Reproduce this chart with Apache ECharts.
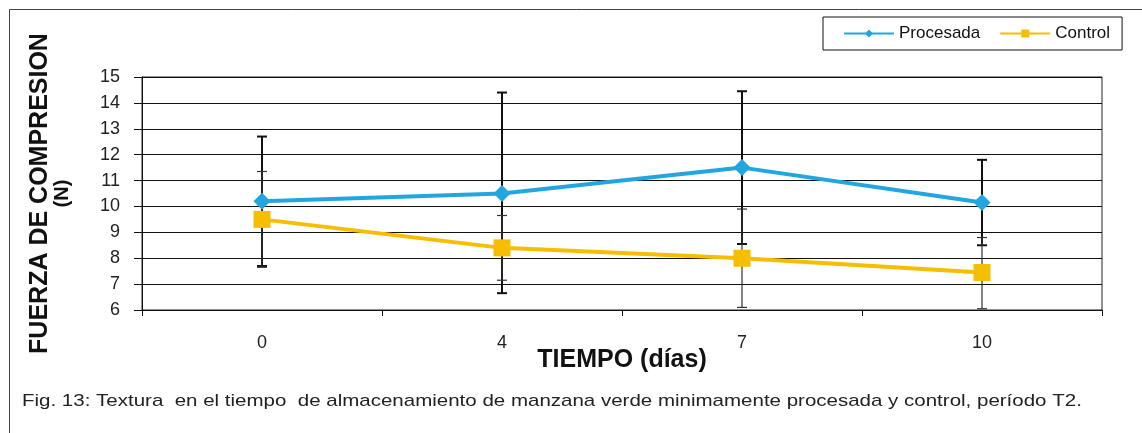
<!DOCTYPE html>
<html>
<head>
<meta charset="utf-8">
<script src="https://cdn.jsdelivr.net/npm/echarts@6/dist/echarts.min.js"></script>
<style>
  html, body { margin: 0; padding: 0; background: #fff; }
  #chart { width: 1142px; height: 433px; }
</style>
</head>
<body>
<div id="chart"></div>
<script>
// tiempo de almacenamiento (días)
const dias = ['0', '4', '7', '10']
// fuerza de compresión (N)
const procesada = [10.2, 10.5, 11.5, 10.15]
const control = [9.5, 8.4, 8.0, 7.45]
// barras de error [bajo, alto]
const procesadaErr = [[7.7, 12.7], [6.65, 14.4], [8.55, 14.45], [8.5, 11.8]]
const controlErr = [[7.65, 11.35], [7.15, 9.65], [6.1, 9.9], [6.05, 8.8]]

const azul = '#22a6e0'
const amarillo = '#f7bd00'

const errorSeries = (name, err, color, width) => ({
  name: name,
  type: 'custom',
  z: 3,
  data: err.map((e, i) => [i, e[0], e[1]]),
  renderItem: (params, api) => {
    const lo = api.coord([api.value(0), api.value(1)])
    const hi = api.coord([api.value(0), api.value(2)])
    const w = 5
    const style = {stroke: color, lineWidth: width}
    return {
      type: 'group',
      children: [
        {type: 'line', shape: {x1: hi[0], y1: hi[1], x2: lo[0], y2: lo[1]}, style},
        {type: 'line', shape: {x1: hi[0] - w, y1: hi[1], x2: hi[0] + w, y2: hi[1]}, style},
        {type: 'line', shape: {x1: lo[0] - w, y1: lo[1], x2: lo[0] + w, y2: lo[1]}, style},
      ]
    }
  }
})

const chart = echarts.init(document.getElementById('chart'))
chart.setOption({
  backgroundColor: '#fff',
  animation: false,
  textStyle: {fontFamily: 'Liberation Sans, Arial, sans-serif'},
  grid: {
    left: 142, right: 40, top: 77, bottom: 123,
    show: true, borderColor: '#222', borderWidth: 1
  },
  legend: {
    data: ['Procesada', 'Control'],
    left: 823, top: 17,
    orient: 'horizontal',
    padding: [8, 12, 8, 20],
    itemWidth: 50, itemHeight: 10, itemGap: 19,
    borderColor: '#111', borderWidth: 1,
    backgroundColor: '#fff',
    textStyle: {fontSize: 17, color: '#111'}
  },
  xAxis: {
    type: 'category',
    data: dias,
    boundaryGap: true,
    name: 'TIEMPO (días)',
    nameLocation: 'middle',
    nameMoveOverlap: false,
    nameGap: 38,
    nameTextStyle: {fontSize: 25, fontWeight: 'bold', color: '#111'},
    axisLine: {show: true, lineStyle: {color: '#111', width: 1}},
    axisTick: {show: true, length: 6, lineStyle: {color: '#111'}},
    axisLabel: {fontSize: 18, color: '#222', margin: 24},
    splitLine: {show: false}
  },
  yAxis: {
    type: 'value',
    min: 6, max: 15, interval: 1,
    name: '{a|FUERZA DE COMPRESION}\n{b|(N)}',
    nameLocation: 'middle',
    nameMoveOverlap: false,
    nameRotate: 90,
    nameGap: 71,
    nameTextStyle: {
      color: '#111',
      rich: {
        a: {fontSize: 25, fontWeight: 'bold', lineHeight: 26, color: '#111'},
        b: {fontSize: 20, fontWeight: 'bold', lineHeight: 18, color: '#111'}
      }
    },
    axisLine: {show: true, lineStyle: {color: '#111', width: 1}},
    axisTick: {show: true, length: 8, lineStyle: {color: '#111'}},
    axisLabel: {fontSize: 18, color: '#222', margin: 22},
    splitLine: {show: true, lineStyle: {color: '#111', width: 1}}
  },
  graphic: [
    {
      type: 'rect', left: 7, top: 7, z: -10, silent: true,
      shape: {width: 1150, height: 440},
      style: {fill: 'none', stroke: '#444', lineWidth: 1}
    },
    {
      type: 'text', left: 22, top: 393,
      scaleX: 1.206,
      style: {
        text: 'Fig. 13: Textura  en el tiempo  de almacenamiento de manzana verde minimamente procesada y control, período T2.',
        font: '17px "Liberation Sans", Arial, sans-serif',
        fill: '#222'
      }
    }
  ],
  series: [
    errorSeries('errProcesada', procesadaErr, '#111', 2),
    errorSeries('errControl', controlErr, '#333', 1.2),
    {
      name: 'Procesada',
      type: 'line',
      z: 4,
      data: procesada,
      symbol: 'diamond',
      symbolSize: 17,
      lineStyle: {color: azul, width: 4},
      itemStyle: {color: azul}
    },
    {
      name: 'Control',
      type: 'line',
      z: 4,
      data: control,
      symbol: 'rect',
      symbolSize: 17,
      lineStyle: {color: amarillo, width: 4},
      itemStyle: {color: amarillo}
    }
  ]
})
</script>
</body>
</html>
